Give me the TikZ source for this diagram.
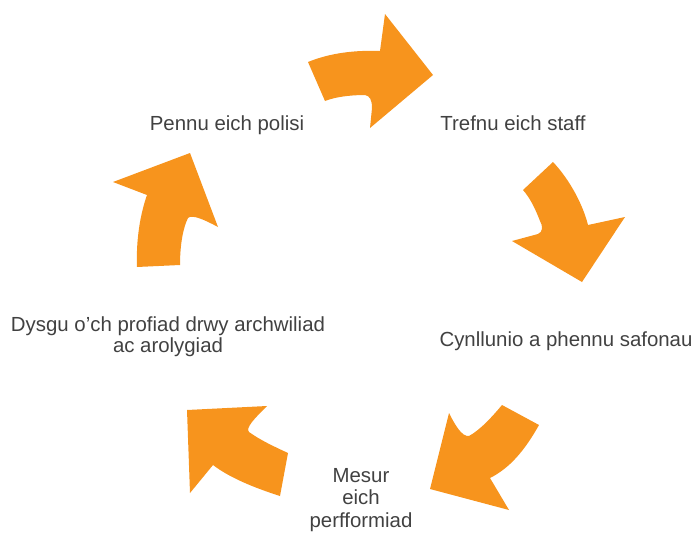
\documentclass[tikz,border=0pt]{standalone}
\usepackage{fontspec}
\setmainfont{Liberation Sans}
\definecolor{cyc}{RGB}{247,148,29}
\definecolor{txt}{RGB}{65,65,65}
\begin{document}
\begin{tikzpicture}[x=1pt,y=-1pt]
\tikzset{lbl/.style={inner sep=0, anchor=base, align=center, text=txt, font=\fontsize{20.4}{22}\selectfont},
arr/.style={fill=cyc, draw=none}}
\useasboundingbox (0,0) rectangle (694,533);
\fill[arr] (308,62) .. controls (330,53) and (355,50) .. (380,51) -- (385,14) -- (433,75) -- (370,128) -- (372,108) .. controls (372,100) and (370,96) .. (365,95) .. controls (350,95) and (335,97) .. (325,101) -- cycle;
\fill[arr] (523,190) -- (553,162) .. controls (570,180) and (583,205) .. (588,225) -- (625,217) -- (582,282) -- (512,241) -- (538,234) .. controls (543,232) and (543,226) .. (540,221) .. controls (535,208) and (530,198) .. (523,190) -- cycle;
\fill[arr] (502,405) -- (539,425) .. controls (525,450) and (510,468) .. (490,478) -- (509,510) -- (430,489) -- (449,413) .. controls (455,425) and (462,437) .. (469,436) .. controls (480,430) and (492,417) .. (502,405) -- cycle;
\fill[arr] (187,410) -- (267,406) .. controls (255,418) and (245,428) .. (249,432) .. controls (260,440) and (275,447) .. (288,453) -- (280,496) .. controls (255,488) and (230,478) .. (213,465) -- (190,493) -- cycle;
\fill[arr] (137,267) -- (180,265) .. controls (180,245) and (183,228) .. (188,218) .. controls (192,214) and (205,220) .. (218,227) -- (190,153) -- (113,182) -- (147,195) .. controls (140,215) and (136,240) .. (137,267) -- cycle;
\node[lbl] (pol) at (227,130) {Pennu eich polisi};
\node[lbl] (staff) at (513,130) {Trefnu eich staff};
\node[lbl] (saf) at (566,346) {Cynllunio a phennu safonau};
\node[lbl, font=\fontsize{20.4}{22.5}\selectfont] (mes) at (361,527) {Mesur\\eich\\perfformiad};
\node[lbl, font=\fontsize{20.4}{21}\selectfont] (dys) at (168,352) {Dysgu o’ch profiad drwy archwiliad\\ac arolygiad};
\end{tikzpicture}
\end{document}
